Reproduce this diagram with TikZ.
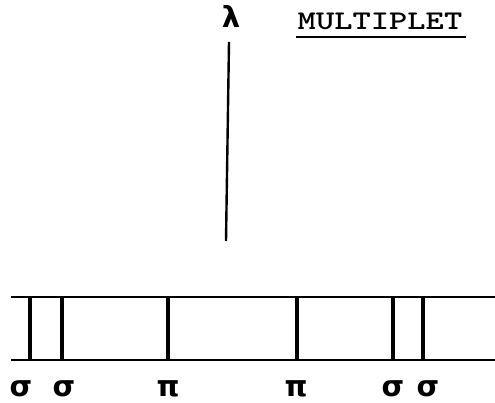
\documentclass[tikz,border=0pt]{standalone}
\usepackage{fontspec}
\setmainfont{DejaVu Sans}
\begin{document}
\begin{tikzpicture}[x=1pt,y=-1pt,
  rail/.style={line width=2.2pt},
  comp/.style={line width=4.5pt},
  greek/.style={font=\bfseries\fontsize{29}{29}\selectfont, inner sep=0pt, anchor=base}]
\useasboundingbox (0,0) rectangle (495,402);
% rails
\coordinate (tl) at (11,297);
\coordinate (tr) at (495,297);
\coordinate (bl) at (11,360);
\coordinate (br) at (495,360);
\draw[rail] (tl) -- (tr);
\draw[rail] (bl) -- (br);
% components
\foreach \n/\x in {s1/30,s2/62,p1/168,p2/297,s3/393,s4/423}{
  \coordinate (\n t) at (\x,297);
  \coordinate (\n b) at (\x,360);
  \draw[comp] (\n t) -- (\n b);
}
% labels
\node[greek] (ls1) at (21,396) {σ};
\node[greek] (ls2) at (64,396) {σ};
\node[greek] (lp1) at (168,396) {π};
\node[greek] (lp2) at (296,396) {π};
\node[greek] (ls3) at (393,396) {σ};
\node[greek] (ls4) at (428,396) {σ};
% lambda axis
\node[greek] (lam) at (231,27) {λ};
\coordinate (at) at (229,42);
\coordinate (ab) at (226,241);
\draw[line width=2.4pt] (at) -- (ab);
% title
\node[font=\ttfamily\bfseries\fontsize{27}{27}\selectfont, inner sep=0pt, anchor=base, xscale=1.29] (title) at (380,29) {MULTIPLET};
\draw[line width=2pt] (296,37) -- (466,37);
\end{tikzpicture}
\end{document}
